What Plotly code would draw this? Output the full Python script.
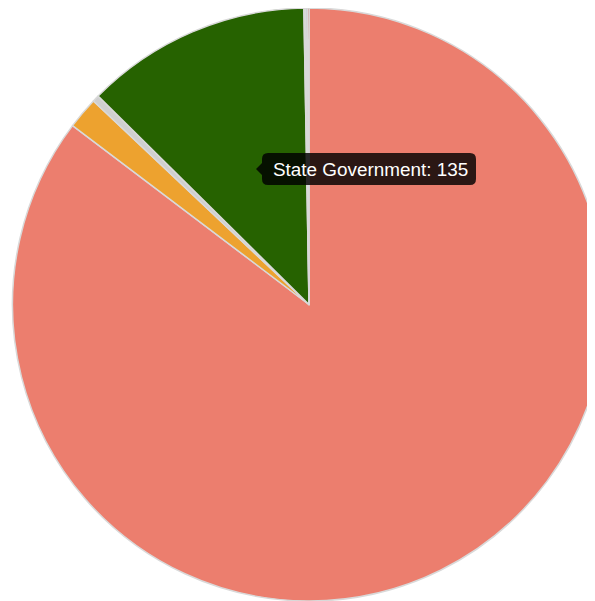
import plotly.graph_objects as go

# slice data, clockwise from 12 o'clock
labels = ["Local Government", "Federal Government", "Other", "State Government",
          "Private", "Tribal", "Unknown"]
values = [935, 19, 4, 135, 1, 1, 1]
colors = ["#EC7E6E", "#EDA22F", "#CFCFCF", "#266200", "#D5D5D5", "#8C8FB0", "#C42A22"]

tooltip_label = "State Government"
tooltip_value = 135

# page body adds an 8px margin; keep height inside the window
W, H = 598, 593
OFF = 8


def px(x, y):
    # page pixel -> paper coords
    return (x - OFF) / W, 1 - (y - OFF) / H


cx, cy0, rad = 309 - OFF, 304.5 - OFF, 296.5
fig = go.Figure(go.Pie(
    labels=labels, values=values, sort=False, direction="clockwise", rotation=0,
    marker=dict(colors=colors, line=dict(color="#D9D9D9", width=1.5)),
    textinfo="none", hoverinfo="none", showlegend=False,
    domain=dict(x=[max(0, (cx - rad) / W), min(1, (cx + rad) / W)],
                y=[max(0, 1 - (cy0 + rad) / H), min(1, 1 - (cy0 - rad) / H)]),
))

# tooltip box with rounded corners and a caret on the left
x0, x1, y0, y1, r = 262, 476, 153, 185, 6
cy = (y0 + y1) / 2
pts = [
    ("M", x0 + r, y0), ("L", x1 - r, y0), ("Q", x1, y0, x1, y0 + r),
    ("L", x1, y1 - r), ("Q", x1, y1, x1 - r, y1), ("L", x0 + r, y1),
    ("Q", x0, y1, x0, y1 - r), ("L", x0, cy + 6), ("L", x0 - 6, cy),
    ("L", x0, cy - 6), ("L", x0, y0 + r), ("Q", x0, y0, x0 + r, y0),
]
path = ""
for p in pts:
    cmd, coords = p[0], p[1:]
    parts = []
    for i in range(0, len(coords), 2):
        a, b = px(coords[i], coords[i + 1])
        parts.append(f"{a:.5f},{b:.5f}")
    path += cmd + " ".join(parts) + " "
path += "Z"

fig.add_shape(type="path", path=path, xref="paper", yref="paper",
              fillcolor="rgba(0,0,0,0.82)", line=dict(width=0))

tx, ty = px(271, cy)
fig.add_annotation(x=tx, y=ty, xref="paper", yref="paper", xanchor="left", yanchor="middle",
                   text=f"{tooltip_label}: {tooltip_value}", showarrow=False,
                   font=dict(family="Liberation Sans, Arial", size=18.9, color="white"))

fig.update_layout(width=W, height=H, margin=dict(l=0, r=0, t=0, b=0),
                  paper_bgcolor="white", plot_bgcolor="white")

fig.write_html("out.html")
